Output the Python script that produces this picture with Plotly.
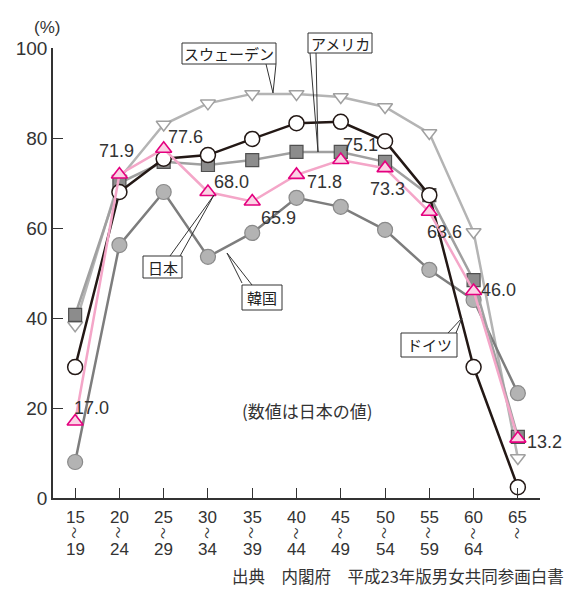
import plotly.graph_objects as go

# ---- data ----
age_top = ["15", "20", "25", "30", "35", "40", "45", "50", "55", "60", "65"]
age_bottom = ["19", "24", "29", "34", "39", "44", "49", "54", "59", "64", ""]
japan = [17.0, 71.9, 77.6, 68.0, 65.9, 71.8, 75.1, 73.3, 63.6, 46.0, 13.2]
korea = [8.0, 56.2, 68.0, 53.6, 58.9, 66.7, 64.7, 59.6, 50.7, 44.0, 23.3]
sweden = [38.4, 71.0, 83.0, 87.7, 89.8, 89.8, 89.1, 86.9, 81.1, 59.1, 8.9]
usa = [40.7, 70.0, 74.7, 74.0, 75.1, 76.9, 76.9, 74.7, 67.3, 48.4, 13.6]
germany = [29.1, 68.0, 75.4, 76.2, 79.8, 83.3, 83.6, 79.3, 67.3, 29.1, 2.4]
japan_labels = ["17.0", "71.9", "77.6", "68.0", "65.9", "71.8", "75.1", "73.3", "63.6", "46.0", "13.2"]

W, H = 573, 590
ML, MR, MT, MB = 53, 33, 48, 92
PW, PH = W - ML - MR, H - MT - MB


def px(x):
    return (x - ML) / PW


def py(y):
    return (H - MB - y) / PH


NUM_FONT = "Liberation Sans, Arial, sans-serif"
JP_FONT = "Noto Sans CJK JP, sans-serif"
TXT = "#333333"

idx = list(range(len(age_top)))
fig = go.Figure()

fig.add_trace(go.Scatter(x=idx, y=sweden, mode="lines+markers", name="スウェーデン",
                         line=dict(color="#b4b4b4", width=2.5),
                         marker=dict(symbol="triangle-down", size=13, color="white",
                                     line=dict(color="#a0a0a0", width=1.5)),
                         cliponaxis=False))
fig.add_trace(go.Scatter(x=idx, y=korea, mode="lines+markers", name="韓国",
                         line=dict(color="#7d7d7d", width=2.5),
                         marker=dict(symbol="circle", size=15, color="#b3b3b3",
                                     line=dict(color="#8a8a8a", width=1.2)),
                         cliponaxis=False))
fig.add_trace(go.Scatter(x=idx, y=usa, mode="lines+markers", name="アメリカ",
                         line=dict(color="#a0a0a0", width=2.5),
                         marker=dict(symbol="square", size=13, color="#8c8c8c",
                                     line=dict(color="#505050", width=1.2)),
                         cliponaxis=False))
fig.add_trace(go.Scatter(x=idx, y=germany, mode="lines+markers", name="ドイツ",
                         line=dict(color="#231815", width=2.5),
                         marker=dict(symbol="circle", size=15, color="white",
                                     line=dict(color="#231815", width=1.5)),
                         cliponaxis=False))
fig.add_trace(go.Scatter(x=idx, y=japan, mode="lines+markers", name="日本",
                         line=dict(color="#f4a6c8", width=2.5),
                         marker=dict(symbol="triangle-up", size=14, color="#fbd3e5",
                                     line=dict(color="#e4007f", width=1.6)),
                         cliponaxis=False))

annotations = []


def ann(**kw):
    kw.setdefault("showarrow", False)
    kw.setdefault("xanchor", "center")
    kw.setdefault("yanchor", "middle")
    annotations.append(kw)


# value labels for Japan (offsets in screen pixels relative to the point; +dy = down)
label_offsets = [(16, -14), (-3, -23), (22, -12), (24, -10), (26, 17), (28, 7),
                 (20, -15), (2, 21), (15, 20), (25, -1), (27, 3)]
for i, (v, t) in enumerate(zip(japan, japan_labels)):
    dx, dy = label_offsets[i]
    ann(x=i, y=v, xref="x", yref="y", text=t, xshift=dx, yshift=-dy,
        font=dict(family=NUM_FONT, size=18, color=TXT))

# x tick labels (three lines each)
for i, (a, b) in enumerate(zip(age_top, age_bottom)):
    ann(x=i, y=py(517), xref="x", yref="paper", text=a,
        font=dict(family=NUM_FONT, size=17, color=TXT))
    ann(x=i, y=py(533), xref="x", yref="paper", text="〜", textangle=90,
        font=dict(family=JP_FONT, size=12, color=TXT))
    if b:
        ann(x=i, y=py(549), xref="x", yref="paper", text=b,
            font=dict(family=NUM_FONT, size=17, color=TXT))

ann(x=px(47), y=py(28), xref="paper", yref="paper", text="(%)",
    font=dict(family=NUM_FONT, size=17, color=TXT))
ann(x=px(307), y=py(410), xref="paper", yref="paper", text="(数値は日本の値)",
    font=dict(family=JP_FONT, size=17, color=TXT))
ann(x=px(566), y=py(576), xref="paper", yref="paper",
    text="出典　内閣府　平成23年版男女共同参画白書", xanchor="right",
    font=dict(family=JP_FONT, size=16.5, color=TXT))

shapes = []
# callout boxes: (text, x0, y0, x1, y1, tail)
callouts = [
    ("スウェーデン", 182, 43, 276, 64, [(266, 64), (273, 93), (276, 64)]),
    ("アメリカ", 308, 33, 372, 53, [(310, 53), (318, 152), (316, 53)]),
    ("日本", 143, 256, 182, 278, [(170, 256), (214, 195), (180, 256)]),
    ("韓国", 242, 285, 282, 310, [(242, 283), (227, 253), (252, 285)]),
    ("ドイツ", 401, 333, 457, 357, [(448, 333), (462, 318), (456, 333)]),
]
for text, x0, y0, x1, y1, tail in callouts:
    shapes.append(dict(type="rect", xref="paper", yref="paper",
                       x0=px(x0), x1=px(x1), y0=py(y1), y1=py(y0),
                       line=dict(color="#333333", width=1), fillcolor="white", layer="above"))
    (ax, ay), (tx, ty), (bx, by) = tail
    path = f"M {px(ax)},{py(ay)} L {px(tx)},{py(ty)} L {px(bx)},{py(by)}"
    shapes.append(dict(type="path", xref="paper", yref="paper", path=path,
                       line=dict(color="#333333", width=1), layer="above"))
    ann(x=px((x0 + x1) / 2), y=py((y0 + y1) / 2), xref="paper", yref="paper",
        text=text, font=dict(family=JP_FONT, size=15, color="#222222"))

fig.update_layout(
    width=W, height=H,
    margin=dict(l=ML, r=MR, t=MT, b=MB),
    paper_bgcolor="white", plot_bgcolor="white",
    showlegend=False,
    xaxis=dict(range=[-0.5, 10.5], tickvals=idx, showticklabels=False, ticks="inside",
               ticklen=10, tickcolor="#333333", showline=True, linecolor="#333333",
               linewidth=1.5, showgrid=False, zeroline=False, fixedrange=True),
    yaxis=dict(range=[0, 100], tickvals=[0, 20, 40, 60, 80, 100], ticks="inside",
               ticklen=10, tickcolor="#333333", showline=True, linecolor="#333333",
               linewidth=1.5, showgrid=False, zeroline=False,
               tickfont=dict(family=NUM_FONT, size=19, color=TXT), fixedrange=True),
    annotations=annotations,
    shapes=shapes,
)

fig.write_html("out.html")
